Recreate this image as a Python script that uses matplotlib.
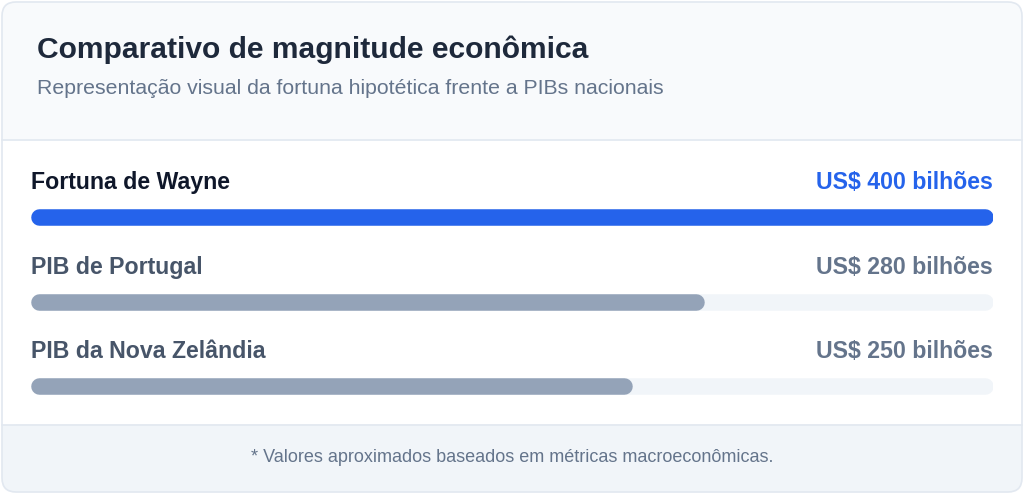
import matplotlib
matplotlib.use("Agg")
from matplotlib import pyplot as plt
from matplotlib.patches import FancyBboxPatch, Rectangle

plt.rcParams['font.family'] = ['Liberation Sans', 'DejaVu Sans']

# Data
labels = ['Fortuna de Wayne', 'PIB de Portugal', 'PIB da Nova Zelândia']
values = [400, 280, 250]
value_labels = ['US$ 400 bilhões', 'US$ 280 bilhões', 'US$ 250 bilhões']
max_value = 400

title = 'Comparativo de magnitude econômica'
subtitle = 'Representação visual da fortuna hipotética frente a PIBs nacionais'
footnote = '* Valores aproximados baseados em métricas macroeconômicas.'

W, H = 1024, 494
fig = plt.figure(figsize=(W / 100, H / 100), dpi=100)

# Background axes in pixel units
ax = fig.add_axes([0, 0, 1, 1])
ax.set_xlim(0, W)
ax.set_ylim(H, 0)
ax.axis('off')

border = '#e2e8f0'
# card (header colour), body, footer
ax.add_patch(FancyBboxPatch((2, 2), W - 4, H - 4, boxstyle='round,pad=0,rounding_size=14',
                            fc='#f8fafc', ec='none', zorder=1))
ax.add_patch(Rectangle((2, 140.5), W - 4, 284, fc='white', ec='none', zorder=2))
ax.add_patch(FancyBboxPatch((2, 424.5), W - 4, H - 426.5, boxstyle='round,pad=0,rounding_size=14',
                            fc='#f1f5f9', ec='none', zorder=2))
ax.add_patch(Rectangle((2, 424.5), W - 4, 30, fc='#f1f5f9', ec='none', zorder=2))
ax.plot([2, W - 2], [140.5, 140.5], color=border, lw=1.2, zorder=3)
ax.plot([2, W - 2], [424.5, 424.5], color=border, lw=1.2, zorder=3)
ax.add_patch(FancyBboxPatch((2, 2), W - 4, H - 4, boxstyle='round,pad=0,rounding_size=14',
                            fc='none', ec=border, lw=1.2, zorder=4))

ax.text(37, 50, title, fontsize=21.6, fontweight='bold', color='#1e293b', va='center', zorder=5)
ax.text(37, 88.5, subtitle, fontsize=15.3, color='#64748b', va='center', zorder=5)
ax.text(W / 2, 457, footnote, fontsize=12.95, color='#64748b', ha='center', va='center', zorder=5)

# Bars axes: x in value units
bx = fig.add_axes([31 / W, 0, 962 / W, 1])
bx.set_xlim(0, max_value)
bx.set_ylim(H, 0)
bx.axis('off')
bx.patch.set_alpha(0)

bar_px = 16.5
lw = bar_px * 72 / 100
r = (bar_px / 2) * max_value / 962  # cap radius in value units

label_colors = ['#0f172a', '#475569', '#475569']
value_colors = ['#2563eb', '#64748b', '#64748b']
bar_colors = ['#2563eb', '#94a3b8', '#94a3b8']

for i, (lab, v, vl) in enumerate(zip(labels, values, value_labels)):
    y_lab = 182.5 + i * 84.5
    y_bar = y_lab + 34.5
    ax.text(31, y_lab, lab, fontsize=16.7, fontweight='bold', color=label_colors[i],
            va='center', zorder=5)
    ax.text(993, y_lab, vl, fontsize=16.7, fontweight='bold', color=value_colors[i],
            va='center', ha='right', zorder=5)
    bx.plot([r, max_value - r], [y_bar, y_bar], color='#f1f5f9', lw=lw,
            solid_capstyle='round', zorder=5)
    bx.plot([r, v - r], [y_bar, y_bar], color=bar_colors[i], lw=lw,
            solid_capstyle='round', zorder=6)

fig.savefig('out.png', dpi=100)
